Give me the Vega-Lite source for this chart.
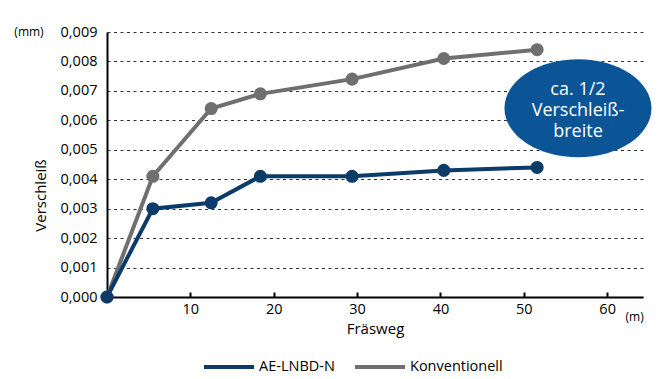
{
  "$schema": "https://vega.github.io/schema/vega-lite/v6.json",
  "autosize": {"type": "none"},
  "padding": {"left": 107, "top": 32, "right": 26, "bottom": 82},
  "width": 536,
  "height": 265,
  "background": "white",
  "config": {"view": {"stroke": null}, "font": "Open Sans"},
  "data": {"values": [
    {"serie": "Konventionell", "weg": 0, "verschleiss": 0},
    {"serie": "Konventionell", "weg": 5.5, "verschleiss": 0.0041},
    {"serie": "Konventionell", "weg": 12.5, "verschleiss": 0.0064},
    {"serie": "Konventionell", "weg": 18.4, "verschleiss": 0.0069},
    {"serie": "Konventionell", "weg": 29.4, "verschleiss": 0.0074},
    {"serie": "Konventionell", "weg": 40.4, "verschleiss": 0.0081},
    {"serie": "Konventionell", "weg": 51.6, "verschleiss": 0.0084},
    {"serie": "AE-LNBD-N", "weg": 0, "verschleiss": 0},
    {"serie": "AE-LNBD-N", "weg": 5.5, "verschleiss": 0.003},
    {"serie": "AE-LNBD-N", "weg": 12.5, "verschleiss": 0.0032},
    {"serie": "AE-LNBD-N", "weg": 18.4, "verschleiss": 0.0041},
    {"serie": "AE-LNBD-N", "weg": 29.4, "verschleiss": 0.0041},
    {"serie": "AE-LNBD-N", "weg": 40.4, "verschleiss": 0.0043},
    {"serie": "AE-LNBD-N", "weg": 51.6, "verschleiss": 0.0044}
  ]},
  "encoding": {
    "x": {"field": "weg", "type": "quantitative",
      "scale": {"domain": [0, 64.3], "nice": false, "zero": true},
      "axis": {"values": [10, 20, 30, 40, 50, 60], "title": "Fräsweg", "grid": false,
        "domainColor": "#000", "domainWidth": 2, "tickColor": "#000", "tickWidth": 2, "tickSize": -5,
        "labelFontSize": 14.5, "labelColor": "#000", "labelPadding": 10, "labelOverlap": false,
        "titleFontSize": 15, "titleFontWeight": "normal", "titleColor": "#000", "titlePadding": 6}},
    "y": {"field": "verschleiss", "type": "quantitative",
      "scale": {"domain": [0, 0.009], "nice": false},
      "axis": {"values": [0, 0.001, 0.002, 0.003, 0.004, 0.005, 0.006, 0.007, 0.008, 0.009],
        "labelExpr": "replace(format(datum.value, '.3f'), '.', ',')", "labelOverlap": false, "labelBound": false,
        "title": "Verschleiß", "ticks": false, "grid": true, "gridDash": [3, 3.5], "gridColor": "#333", "gridWidth": 1,
        "domainColor": "#000", "domainWidth": 2,
        "labelFontSize": 14.5, "labelColor": "#000", "labelPadding": 10,
        "titleFontSize": 15, "titleFontWeight": "normal", "titleColor": "#000",
        "titleAngle": -90, "titleX": -67, "titleY": 163, "titleAlign": "center", "titleBaseline": "middle"}},
    "color": {"field": "serie", "type": "nominal",
      "scale": {"domain": ["AE-LNBD-N", "Konventionell"], "range": ["#0b3b68", "#6f6f6f"]},
      "legend": {"title": null, "orient": "none", "legendX": 95, "legendY": 308, "direction": "horizontal",
        "symbolType": "stroke", "symbolSize": 2500, "symbolStrokeWidth": 4, "labelFontSize": 14.5, "labelColor": "#000",
        "labelOffset": 3, "columnPadding": 12}}
  },
  "layer": [
    {"mark": {"type": "line", "strokeWidth": 4}},
    {"mark": {"type": "point", "filled": true, "size": 170, "opacity": 1}},
    {"transform": [{"filter": "datum.weg == 0 && datum.serie == 'AE-LNBD-N'"}],
     "mark": {"type": "point", "filled": true, "opacity": 1, "fill": "#0b5597", "strokeWidth": 0, "size": 21609,
       "shape": "M-1,0A1,0.667,0,1,1,1,0A1,0.667,0,1,1,-1,0Z"},
     "encoding": {"x": {"datum": 56.5}, "y": {"datum": 0.00641}, "color": null}},
    {"transform": [{"filter": "datum.weg == 0 && datum.serie == 'AE-LNBD-N'"}],
     "mark": {"type": "text", "text": ["ca. 1/2", "Verschleiß-", "breite"], "color": "white", "fontSize": 18,
       "lineHeight": 21, "align": "center", "baseline": "middle", "dy": -18},
     "encoding": {"x": {"datum": 56.5}, "y": {"datum": 0.00641}, "color": null}},
    {"transform": [{"filter": "datum.weg == 0 && datum.serie == 'AE-LNBD-N'"}],
     "mark": {"type": "text", "text": "(mm)", "fontSize": 12, "color": "#000", "align": "center", "baseline": "middle", "dx": -78},
     "encoding": {"x": {"datum": 0}, "y": {"datum": 0.009}, "color": null}},
    {"transform": [{"filter": "datum.weg == 0 && datum.serie == 'AE-LNBD-N'"}],
     "mark": {"type": "text", "text": "(m)", "fontSize": 12, "color": "#000", "align": "center", "baseline": "middle", "dy": 20},
     "encoding": {"x": {"datum": 63.3}, "y": {"datum": 0}, "color": null}}
  ]
}
